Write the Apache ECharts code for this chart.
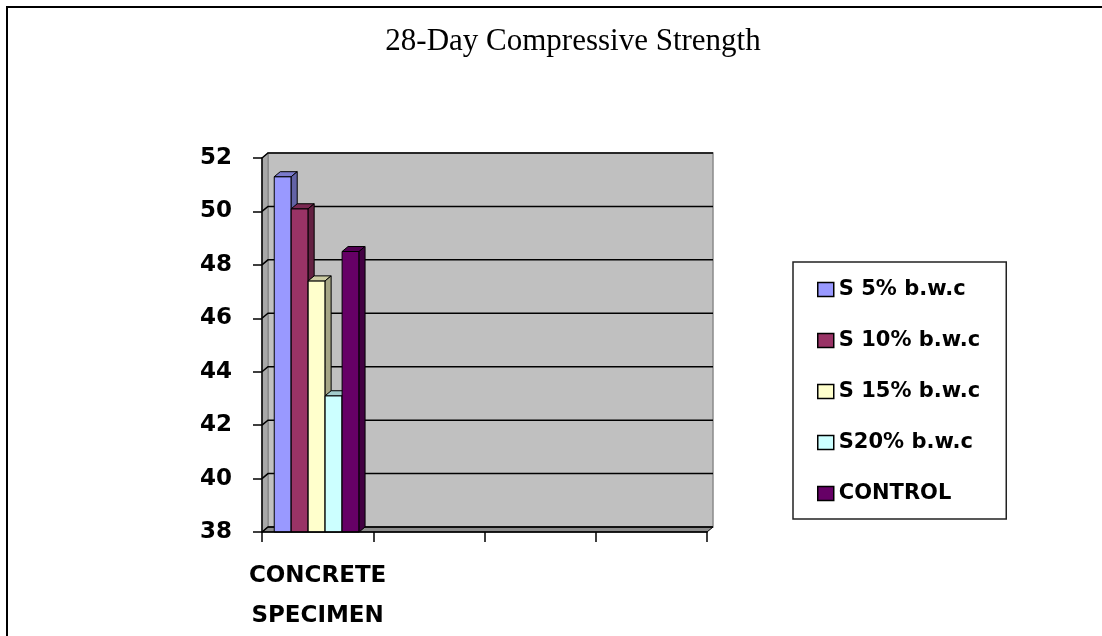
<!DOCTYPE html>
<html><head><meta charset="utf-8">
<script src="https://cdn.jsdelivr.net/npm/echarts@6/dist/echarts.min.js"></script>
<style>html,body{margin:0;padding:0;background:#fff}#c{width:1102px;height:636px}</style>
</head><body><div id="c"></div>
<script>
const categories = ['CONCRETE\nSPECIMEN', '', '', ''];
const seriesNames = ['S 5% b.w.c', 'S 10% b.w.c', 'S 15% b.w.c', 'S20% b.w.c', 'CONTROL'];
const seriesValues = [51.3, 50.1, 47.4, 43.1, 48.5];
const yTicks = [38, 40, 42, 44, 46, 48, 50, 52];
const colors = ['#9999FF', '#993366', '#FFFFCC', '#CCFFFF', '#660066'];

const Y_MIN = 38, Y_MAX = 52, Y_STEP = 2;
const DX = 6, DY = 5;

function shade(hex, f) {
  const n = parseInt(hex.slice(1), 16);
  const r = Math.round(((n >> 16) & 255) * f), g = Math.round(((n >> 8) & 255) * f), b = Math.round((n & 255) * f);
  return 'rgb(' + r + ',' + g + ',' + b + ')';
}

function barRender(idx) {
  return function (params, api) {
    const cat = api.value(0), val = api.value(1);
    const top = api.coord([cat, val]);
    const base = api.coord([cat, Y_MIN]);
    const band = api.size([1, 0])[0];
    const w = band * 0.1525;
    const x = top[0] - band / 2 + band * 0.11 + idx * w;
    const col = colors[idx];
    return {
      type: 'group',
      children: [
        { type: 'rect', shape: { x: x, y: top[1], width: w, height: base[1] - top[1] }, style: { fill: col, stroke: '#000', lineWidth: 1 } },
        { type: 'polygon', shape: { points: [[x, top[1]], [x + DX, top[1] - DY], [x + w + DX, top[1] - DY], [x + w, top[1]]] }, style: { fill: shade(col, 0.8), stroke: '#000', lineWidth: 1 } },
        { type: 'polygon', shape: { points: [[x + w, top[1]], [x + w + DX, top[1] - DY], [x + w + DX, base[1] - DY], [x + w, base[1]]] }, style: { fill: shade(col, 0.65), stroke: '#000', lineWidth: 1 } }
      ]
    };
  };
}

function wallRender(params, api) {
  const cs = params.coordSys;
  const x = cs.x, y = cs.y, w = cs.width, h = cs.height;
  const children = [
    { type: 'rect', shape: { x: x + DX, y: y - DY, width: w, height: h }, style: { fill: '#c0c0c0', stroke: '#8a8a8a', lineWidth: 1.5 } },
    { type: 'polygon', shape: { points: [[x, y], [x + DX, y - DY], [x + DX, y + h - DY], [x, y + h]] }, style: { fill: '#a8a8a8', stroke: '#808080', lineWidth: 1 } },
    { type: 'polygon', shape: { points: [[x, y + h], [x + DX, y + h - DY], [x + w + DX, y + h - DY], [x + w, y + h]] }, style: { fill: '#8c8c8c', stroke: '#000', lineWidth: 1 } }
  ];
  yTicks.forEach(function (v) {
    const p = api.coord([0, v]);
    children.push({ type: 'polyline', shape: { points: [[x, p[1]], [x + DX, p[1] - DY], [x + w + DX, p[1] - DY]] }, style: { stroke: '#000', lineWidth: 1.5, fill: null } });
  });
  return { type: 'group', children: children };
}

const series = [{
  type: 'custom', name: '_walls', silent: true, z: 1,
  renderItem: wallRender, data: [[0, Y_MIN]]
}];
seriesNames.forEach(function (name, i) {
  series.push({
    type: 'custom', name: name, z: 2,
    itemStyle: { color: colors[i] },
    renderItem: barRender(i),
    data: [[0, seriesValues[i]]]
  });
});

const chart = echarts.init(document.getElementById('c'), null, { renderer: 'canvas' });
chart.setOption({
  animation: false,
  backgroundColor: '#fff',
  graphic: [{ type: 'rect', z: -10, silent: true, shape: { x: 7, y: 7, width: 1300, height: 800 }, style: { fill: '#fff', stroke: '#000', lineWidth: 2 } }],
  title: {
    text: '28-Day Compressive Strength', left: 573, top: 26, padding: 0, textAlign: 'center',
    textStyle: { fontFamily: 'Liberation Serif', fontWeight: 'normal', fontSize: 31, color: '#000' }
  },
  legend: {
    orient: 'vertical', left: 793, top: 262, padding: [17, 26, 15, 24], itemGap: 30,
    itemWidth: 16, itemHeight: 14, icon: 'rect',
    borderColor: '#222', borderWidth: 1.5, backgroundColor: '#fff',
    itemStyle: { borderColor: '#000', borderWidth: 1.5 },
    textStyle: { fontFamily: 'DejaVu Sans', fontWeight: 'bold', fontSize: 21, color: '#000', lineHeight: 20 },
    data: seriesNames
  },
  grid: { left: 262, top: 158, width: 445, height: 375, containLabel: false },
  xAxis: {
    type: 'category', data: categories, boundaryGap: true, z: 5,
    axisLine: { show: true, lineStyle: { color: '#000', width: 1.5 } },
    axisTick: { show: true, length: 10, interval: 0, lineStyle: { color: '#000', width: 1.5 } },
    axisLabel: { interval: 0, margin: 24, color: '#000', fontFamily: 'DejaVu Sans', fontWeight: 'bold', fontSize: 23, lineHeight: 40 },
    splitLine: { show: false }
  },
  yAxis: {
    type: 'value', min: Y_MIN, max: Y_MAX, interval: Y_STEP, z: 5,
    axisLine: { show: true, lineStyle: { color: '#000', width: 1.5 } },
    axisTick: { show: true, length: 9, lineStyle: { color: '#000', width: 1.5 } },
    axisLabel: { margin: 30, padding: [6, 0, 0, 0], color: '#000', fontFamily: 'DejaVu Sans', fontWeight: 'bold', fontSize: 23 },
    splitLine: { show: false }
  },
  series: series
});
</script></body></html>
